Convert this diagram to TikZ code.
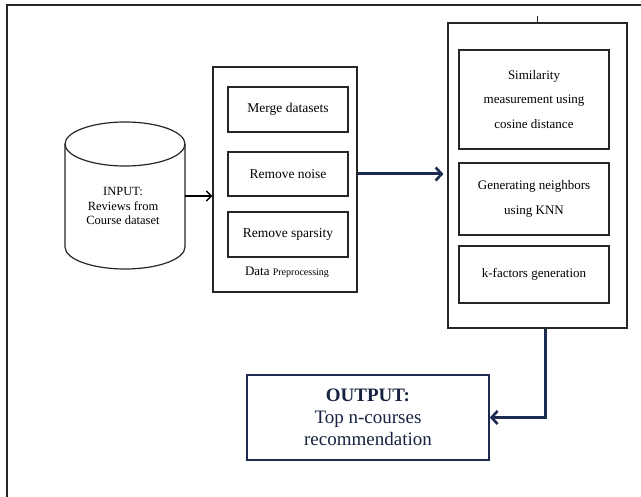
\documentclass[tikz,border=0pt]{standalone}
\usepackage{fontspec}
\setmainfont{Liberation Serif}
\usepackage{tikz}
\usetikzlibrary{arrows.meta}
\definecolor{navy}{HTML}{1C2B4F}
\definecolor{edge}{HTML}{262626}

\begin{document}
\begin{tikzpicture}[x=1pt, y=-1pt,
    stepbox/.style={draw=edge, line width=1.2pt, inner sep=0pt, align=center,
        minimum width=120, font=\fontsize{13.5}{16}\selectfont},
    modelbox/.style={draw=edge, line width=1.2pt, inner sep=0pt, align=center,
        minimum width=150, font=\fontsize{13}{24.5}\selectfont},
    panel/.style={draw=edge, line width=1.1pt, inner sep=0pt},
    navyarrow/.style={draw=navy, line width=3pt, -{Straight Barb[length=6pt, width=13pt, line width=2.6pt]}}]
    \useasboundingbox (0,0) rectangle (641,497);
    \draw[line width=2pt, edge] (7,500) -- (7,5) -- (645,5);
    % input cylinder
    \draw[line width=1.2pt, edge] (65,144) -- (65,247) arc[start angle=180, end angle=0, x radius=60, y radius=22] -- (185,144);
    \draw[line width=1.2pt, edge] (125,144) ellipse[x radius=60, y radius=22];
    \node[align=center, font=\fontsize{12.5}{14.5}\selectfont] (input) at (123,206) {INPUT:\\Reviews from\\Course dataset};
    \coordinate (inputR) at (185,196);
    % preprocessing
    \node[panel, minimum width=144, minimum height=225] (prep) at (285,179.5) {};
    \node[stepbox, minimum height=45] (merge) at (288,109.5) {Merge datasets};
    \node[stepbox, minimum height=44] (noise) at (288,174) {Remove noise};
    \node[stepbox, minimum height=45] (sparse) at (288,234.5) {Remove sparsity};
    \node[font=\fontsize{13}{15}\selectfont] (prepLabel) at (287,272) {Data {\fontsize{10}{12}\selectfont Preprocessing}};
    % model
    \node[panel, minimum width=179, minimum height=305] (model) at (537.5,175.5) {};
    \draw[line width=0.6pt, edge] (model.north) -- ++(0,-6);
    \node[modelbox, minimum height=99] (sim) at (534,99.5) {Similarity\\measurement using\\cosine distance};
    \node[modelbox, minimum height=72] (knn) at (534,199) {Generating neighbors\\using KNN};
    \node[modelbox, minimum height=57] (kfac) at (534,274.5) {k-factors generation};
    % output
    \node[draw=navy, line width=1.6pt, minimum width=242, minimum height=85, inner sep=0pt,
        align=center, text=navy!80!black, font=\fontsize{19}{22}\selectfont] (out) at (368,417.5)
        {\textbf{OUTPUT:}\\Top n-courses\\recommendation};
    % connectors
    \draw[line width=1.6pt, -{Straight Barb[length=5pt, width=10pt, line width=1.5pt]}] (inputR) -- (inputR -| prep.west);
    \draw[navyarrow, shorten >=4pt] (prep.east |- noise.east) -- (model.west |- noise.east);
    \draw[navyarrow] ([xshift=7.5pt]model.south) |- (out.east);
\end{tikzpicture}
\end{document}
